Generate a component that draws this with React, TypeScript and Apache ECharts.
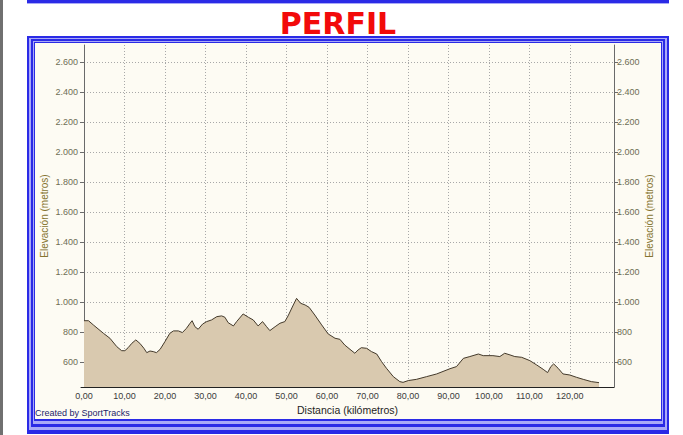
import React, { useEffect, useRef } from "react";
import * as echarts from "echarts";

// Distance (km) along the route
const distanceKm = [
  0, 1.1, 2.3, 4.8, 6.4, 8.1, 9.3, 10.1, 10.9, 11.8, 12.8, 13.8, 14.8, 15.5, 16.3, 17.1, 17.9, 18.8,
  20.0, 21.2, 22.1, 23.3, 24.3, 25.3, 26.2, 26.7, 27.4, 28.2, 29.3, 30.3, 31.5, 32.8, 34.0, 34.8,
  35.6, 36.9, 37.7, 39.3, 40.6, 41.8, 43.0, 44.1, 45.1, 45.9, 47.2, 48.4, 49.6, 50.4, 51.7, 52.5,
  53.5, 54.6, 55.6, 57.0, 58.7, 60.3, 62.0, 63.2, 64.4, 65.7, 66.9, 67.7, 68.5, 69.8, 71.0, 72.3,
  73.5, 74.7, 76.4, 78.0, 78.8, 80.1, 82.1, 84.6, 87.1, 90.4, 92.0, 93.7, 95.3, 97.4, 98.6, 101.0,
  102.7, 103.9, 105.2, 106.4, 108.1, 110.1, 111.8, 113.4, 114.5, 115.3, 116.0, 117.1, 118.3, 120.0,
  121.6, 123.3, 125.3, 127.2,
];
// Elevation (m)
const elevationM = [
  875, 875, 847, 791, 758, 702, 675, 675, 695, 724, 747, 724, 691, 662, 673, 669, 662, 684,
  736, 791, 807, 807, 796, 824, 858, 875, 835, 818, 853, 869, 880, 902, 907, 898,
  862, 840, 869, 920, 898, 880, 840, 869, 835, 809, 835, 858, 869, 907, 980, 1024,
  991, 980, 964, 913, 847, 787, 758, 751, 713, 684, 658, 680, 695, 691, 669, 653,
  602, 558, 502, 469, 464, 476, 484, 502, 520, 555, 569, 624, 636, 653, 642, 642,
  636, 658, 647, 636, 631, 609, 580, 551, 529, 569, 587, 558, 520, 513,
  498, 484, 469, 462,
];
// Tick values
const xTicks = [0, 10, 20, 30, 40, 50, 60, 70, 80, 90, 100, 110, 120];
const yTicks = [600, 800, 1000, 1200, 1400, 1600, 1800, 2000, 2200, 2400, 2600];

const fmtX = (v: number) => v.toFixed(2).replace(".", ",");
const fmtY = (v: number) => {
  const s = String(Math.round(v));
  return s.length > 3 ? s.slice(0, s.length - 3) + "." + s.slice(-3) : s;
};

export default function App() {
  const ref = useRef<HTMLDivElement>(null);
  useEffect(() => {
    document.body.style.margin = "0";
    const chart = echarts.init(ref.current!, null, { renderer: "svg" });
    const blue = "#2a2ae6";
    const light = "#a9a9f7";
    const cream = "#fdfbf3";
    const rect = (x0: number, y0: number, x1: number, y1: number, fill: string) => ({
      type: "rect",
      z: -10,
      silent: true,
      shape: { x: x0, y: y0, width: x1 - x0, height: y1 - y0 },
      style: { fill },
    });
    const tickFont = { fontFamily: "Liberation Sans, Arial, sans-serif", fontSize: 9, color: "#6e6e55" };
    const yAxisBase = {
      type: "value",
      min: 433,
      max: 2713,
      axisLine: { show: true, lineStyle: { color: "#6a6a6a", width: 1 } },
      axisTick: { show: true, length: 4, lineStyle: { color: "#6a6a6a" }, customValues: yTicks },
      axisLabel: { ...tickFont, margin: 3, customValues: yTicks, formatter: (v: number) => fmtY(v) },
      name: "Elevación (metros)",
      nameLocation: "middle",
      nameRotate: 90,
      nameMoveOverlap: false,
      nameTextStyle: { fontFamily: "Liberation Sans, Arial, sans-serif", fontSize: 10, color: "#857430" },
    };
    chart.setOption({
      animation: false,
      backgroundColor: "#ffffff",
      grid: { left: 81, right: 69, top: 45, bottom: 48, containLabel: false },
      graphic: [
        rect(0, 0, 3, 435, "#707070"),
        rect(27, 0, 669, 3, blue),
        rect(27, 3, 669, 4, light),
        rect(27, 36, 669, 434, blue),
        rect(29, 38, 667, 430, light),
        rect(31, 39, 665, 427, blue),
        rect(33, 41, 663, 424, light),
        rect(34, 42, 662, 421, blue),
        rect(35, 43, 661, 419, cream),
        {
          type: "text",
          x: 338,
          y: 23.5,
          z: 10,
          style: {
            text: "PERFIL",
            fill: "#f20a0a",
            font: "bold 30px 'DejaVu Sans', Verdana, sans-serif",
            textAlign: "center",
            verticalAlign: "middle",
          },
        },
        {
          type: "text",
          x: 35,
          y: 413,
          z: 10,
          style: {
            text: "Created by SportTracks",
            fill: "#23236a",
            font: "9px 'Liberation Sans', Arial, sans-serif",
            textAlign: "left",
            verticalAlign: "middle",
          },
        },
      ],
      xAxis: {
        type: "value",
        min: -0.74,
        max: 130.9,
        axisLine: { show: true, onZero: false, lineStyle: { color: "#222222", width: 1 } },
        axisTick: { show: false, customValues: xTicks },
        axisLabel: { ...tickFont, color: "#3a3a3a", margin: 4, customValues: xTicks, formatter: (v: number) => fmtX(v) },
        splitLine: { show: true, lineStyle: { color: "#a8a8a8", type: [1, 2], width: 1 } },
        name: "Distancia (kilómetros)",
        nameLocation: "middle",
        nameGap: 17,
        nameMoveOverlap: false,
        nameTextStyle: { fontFamily: "Liberation Sans, Arial, sans-serif", fontSize: 10.5, color: "#1e1e1e" },
      },
      yAxis: [
        {
          ...yAxisBase,
          position: "left",
          nameGap: 32,
          splitLine: { show: true, lineStyle: { color: "#a8a8a8", type: [1, 2], width: 1 } },
        },
        {
          ...yAxisBase,
          position: "right",
          nameGap: 30,
          splitLine: { show: false },
        },
      ],
      series: [
        {
          type: "line",
          yAxisIndex: 0,
          data: distanceKm.map((d, i) => [d, elevationM[i]]),
          symbol: "none",
          lineStyle: { color: "#43392a", width: 1 },
          areaStyle: { color: "#d9c9af", opacity: 1 },
          z: 3,
        },
      ],
    });
    return () => chart.dispose();
  }, []);
  return (
    <div
      ref={ref}
      style={{ position: "absolute", left: 0, top: 0, width: 683, height: 435 }}
    />
  );
}
